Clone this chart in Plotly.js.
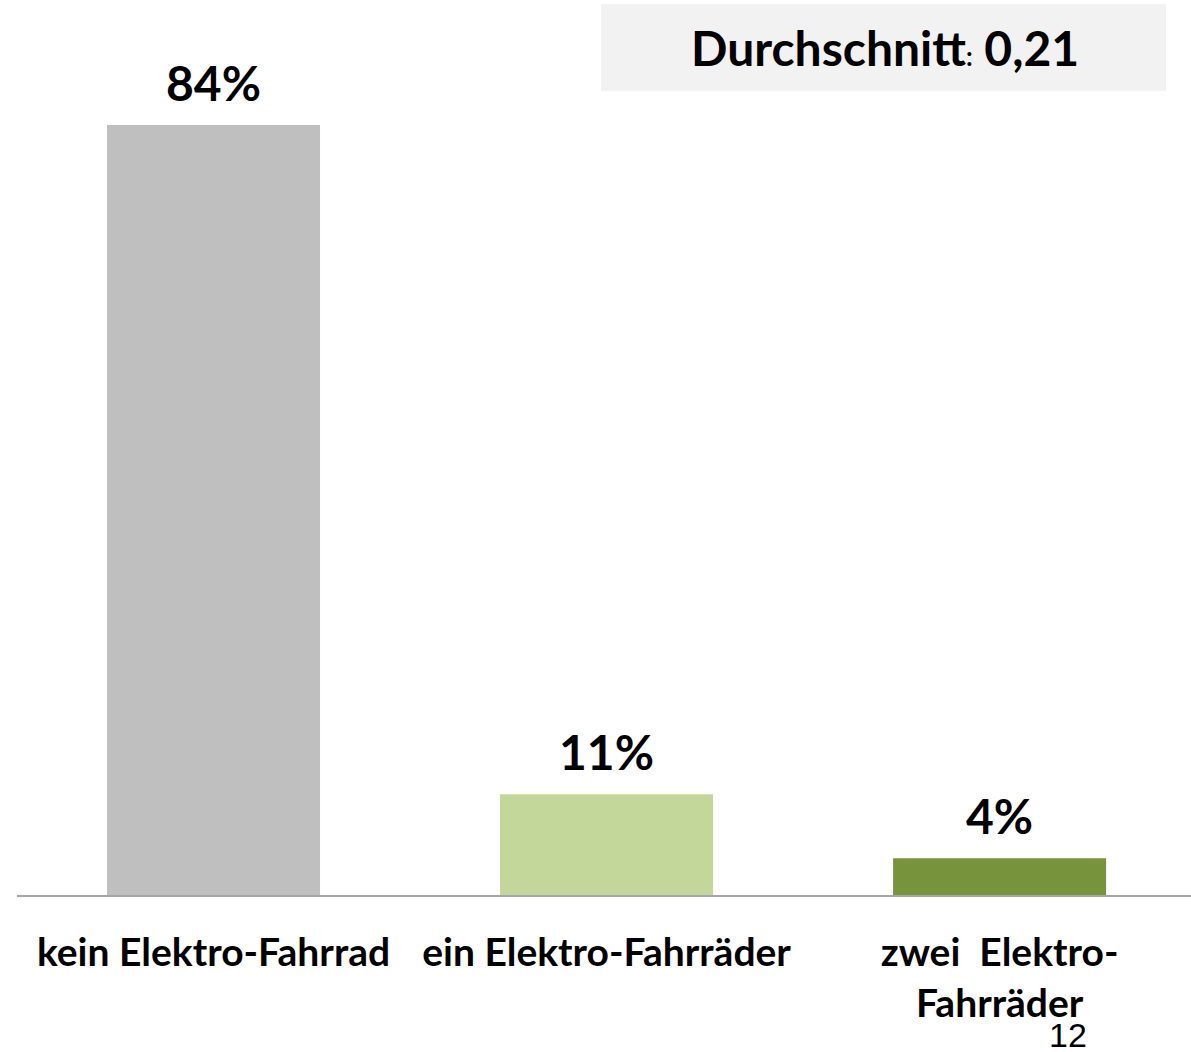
<!DOCTYPE html>
<html>
<head>
<meta charset="utf-8">
<script src="https://cdn.plot.ly/plotly-3.0.1.min.js"></script>
<style>html,body{margin:0;padding:0;background:#fff;}#chart{width:1191px;height:1052px;}</style>
</head>
<body>
<div id="chart"></div>
<script>
const categories = ['kein Elektro-Fahrrad', 'ein Elektro-Fahrräder', 'zwei  Elektro-<br>Fahrräder'];
const values = [84, 11, 4];
const valueLabels = ['84%', '11%', '4%'];
const barColors = ['#bfbfbf', '#c4d79b', '#77933c'];
const averageLabel = 'Durchschnitt';
const averageValue = '0,21';
const pageNumber = '12';

const FONT = 'Lato, "Open Sans", sans-serif';

const annotations = categories.map((c, i) => ({
  x: c, y: values[i], xref: 'x', yref: 'y',
  text: valueLabels[i], showarrow: false,
  yanchor: 'middle', yshift: 43,
  font: {family: FONT, size: 48, color: '#000', weight: 700}
}));
annotations.push({
  xref: 'paper', yref: 'paper', x: (885 - 17) / 1174, y: (895 - 47) / 895,
  xanchor: 'center', yanchor: 'middle', showarrow: false,
  text: averageLabel + '<span style="font-size:26px">:</span> ' + averageValue,
  font: {family: FONT, size: 48, color: '#000', weight: 700}
});
annotations.push({
  xref: 'paper', yref: 'paper', x: (1068 - 17) / 1174, y: (895 - 1035) / 895,
  xanchor: 'center', yanchor: 'middle', showarrow: false,
  text: pageNumber,
  font: {family: '"Liberation Sans Narrow", "Liberation Sans", sans-serif', size: 34, color: '#000'}
});

const data = [{
  type: 'bar', x: categories, y: values,
  marker: {color: barColors},
  hoverinfo: 'none'
}];

const layout = {
  width: 1191, height: 1052,
  margin: {l: 17, r: 0, t: 0, b: 157, pad: 0},
  paper_bgcolor: '#fff', plot_bgcolor: '#fff',
  showlegend: false,
  bargap: 0.458,
  xaxis: {
    type: 'category', range: [-0.5, 2.487],
    showline: true, linecolor: '#a6a6a6', linewidth: 2,
    ticks: '', showgrid: false, zeroline: false,
    ticklabelstandoff: 22,
    tickfont: {family: FONT, size: 39, color: '#000', weight: 700}
  },
  yaxis: {
    range: [0, 895 / (770 / 84)], showgrid: false, zeroline: false,
    showticklabels: false, showline: false, ticks: ''
  },
  shapes: [{
    type: 'rect', xref: 'paper', yref: 'paper',
    x0: (601 - 17) / 1174, x1: (1166 - 17) / 1174,
    y0: (895 - 91) / 895, y1: (895 - 4) / 895,
    fillcolor: '#f2f2f2', line: {width: 0}, layer: 'below'
  }],
  annotations: annotations
};

Plotly.newPlot('chart', data, layout, {displayModeBar: false, staticPlot: true});
</script>
</body>
</html>
